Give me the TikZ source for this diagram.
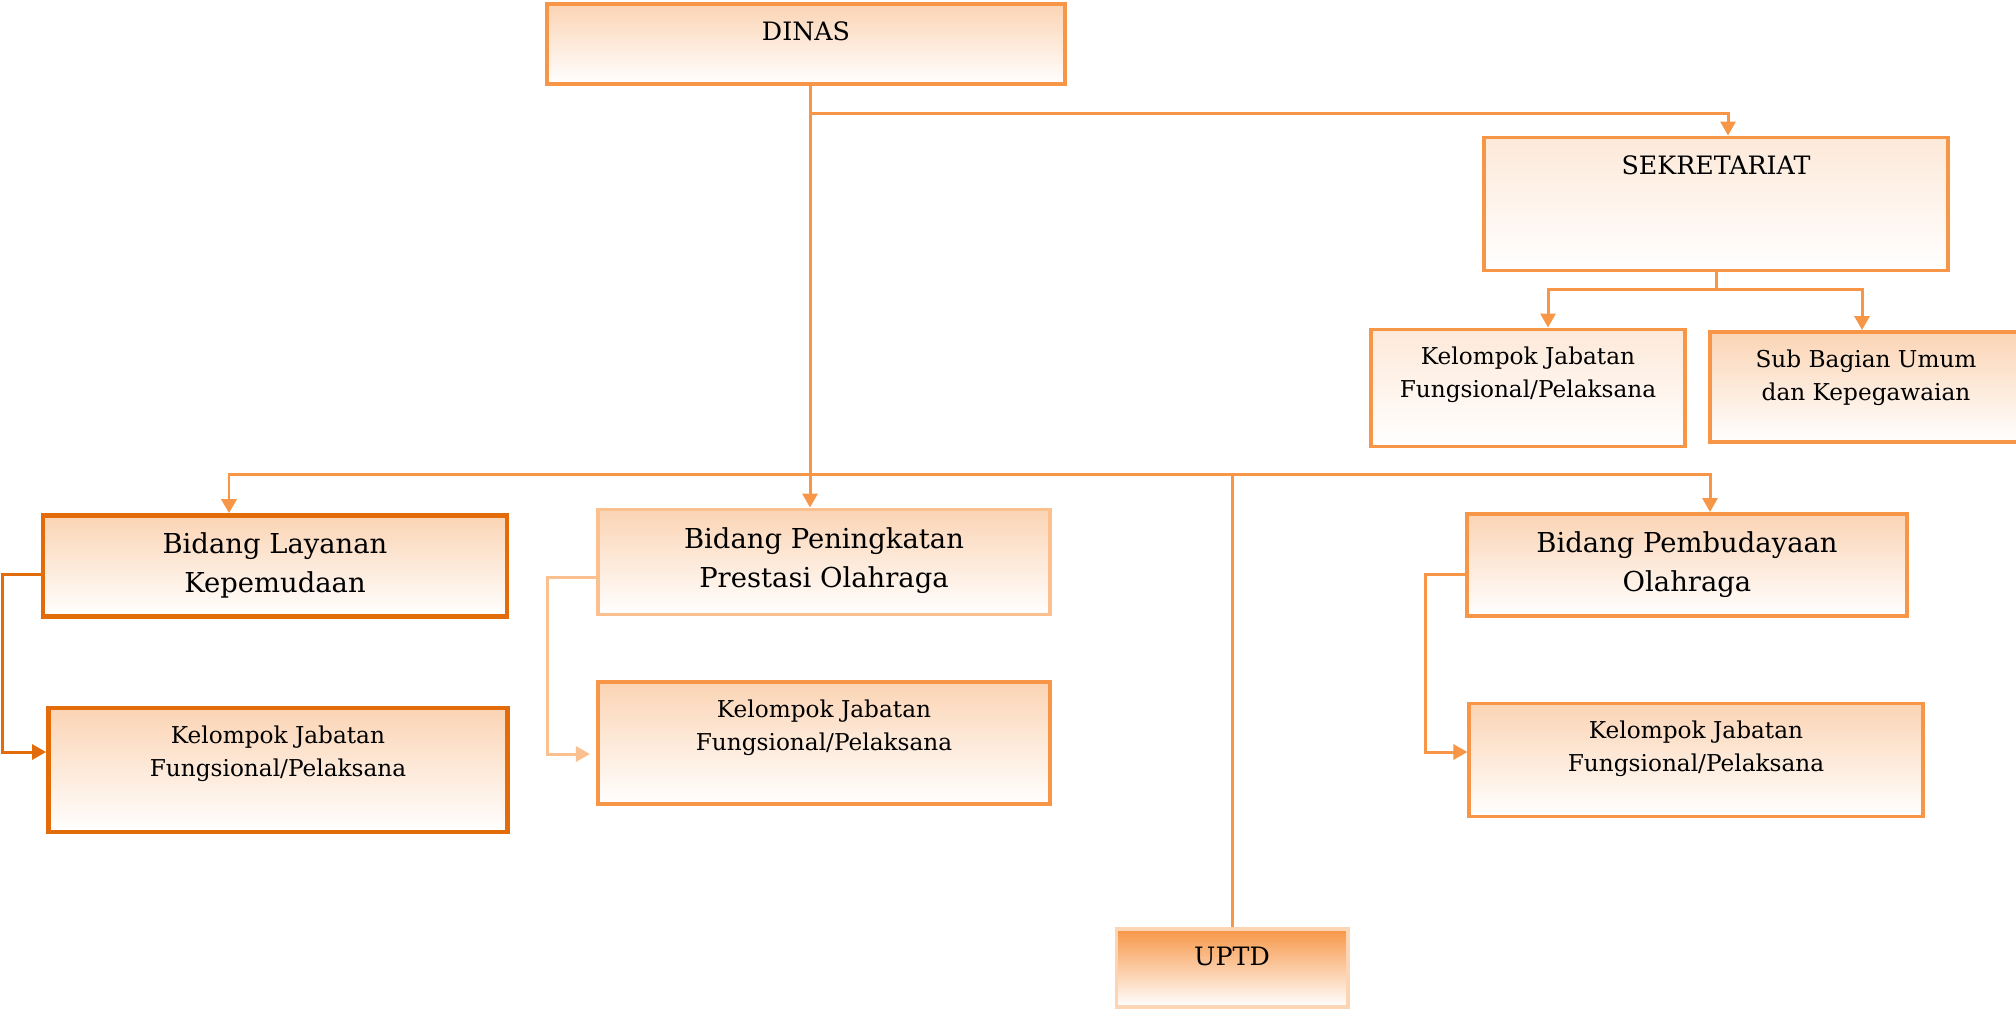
\documentclass[tikz,border=0pt]{standalone}
\usepackage{fontspec}
\setmainfont{DejaVu Serif}
\usetikzlibrary{arrows.meta}
\definecolor{accent}{HTML}{F79646}
\definecolor{accentdark}{HTML}{E36C0A}
\definecolor{accentlight}{HTML}{FAC090}
\definecolor{tintA}{HTML}{FBD4B4}
\definecolor{tintB}{HTML}{FDE9D9}
\definecolor{tintC}{HTML}{FCD5B4}
\tikzset{unit/.style={draw=accent,line width=1.1pt,top color=tintA,bottom color=white},
         intext/.style={anchor=north,yshift=-0.19cm,align=center,inner sep=0pt},
         head/.style={font=\fontsize{7.2}{10}\selectfont},
         big/.style={font=\fontsize{7.8}{11.1}\selectfont},
         small/.style={font=\fontsize{6.6}{9.4}\selectfont},
         link/.style={draw=accent,line width=0.85pt}}

\begin{document}
\begin{tikzpicture}[x=0.01cm,y=-0.01cm,>={Triangle[length=0.14cm,width=0.15cm]}]
    \useasboundingbox (0,0) rectangle (2016,1008);

    \node[unit,minimum width=5.17cm,minimum height=0.8cm,label={[intext,head]north:DINAS}] (dinas) at (806,44) {};
    \node[unit,top color=tintB,minimum width=4.64cm,minimum height=1.33cm,label={[intext,head]north:SEKRETARIAT}] (sek) at (1716,204) {};
    \node[unit,top color=tintB,minimum width=3.14cm,minimum height=1.17cm,label={[intext,small]north:Kelompok Jabatan\\Fungsional/Pelaksana}] (kelsek) at (1528,388) {};
    \node[unit,minimum width=3.12cm,minimum height=1.1cm,label={[intext,small]north:Sub Bagian Umum\\dan Kepegawaian}] (sub) at (1866,387) {};
    \node[unit,draw=accentdark,line width=1.3pt,minimum width=4.64cm,minimum height=1.01cm,label={[intext,big]north:Bidang Layanan\\Kepemudaan}] (lay) at (275,566) {};
    \node[unit,draw=accentdark,line width=1.3pt,minimum width=4.59cm,minimum height=1.24cm,label={[intext,small]north:Kelompok Jabatan\\Fungsional/Pelaksana}] (kellay) at (278,770) {};
    \node[unit,draw=accentlight,minimum width=4.52cm,minimum height=1.05cm,label={[intext,big]north:Bidang Peningkatan\\Prestasi Olahraga}] (pen) at (824,562) {};
    \node[unit,minimum width=4.52cm,minimum height=1.22cm,label={[intext,small]north:Kelompok Jabatan\\Fungsional/Pelaksana}] (kelpen) at (824,743) {};
    \node[unit,minimum width=4.4cm,minimum height=1.02cm,label={[intext,big]north:Bidang Pembudayaan\\Olahraga}] (pem) at (1687,565) {};
    \node[unit,minimum width=4.53cm,minimum height=1.13cm,label={[intext,small]north:Kelompok Jabatan\\Fungsional/Pelaksana}] (kelpem) at (1696,760) {};
    \node[unit,draw=tintC,top color=accent,minimum width=2.31cm,minimum height=0.78cm,label={[intext,head]north:UPTD}] (uptd) at (1232,968) {};

    \coordinate (top) at (810,113);
    \coordinate (mid) at (810,474);
    \coordinate (busL) at (229,474);
    \coordinate (busR) at (1710,474);
    \coordinate (sekL) at (1548,289);
    \coordinate (sekR) at (1862,289);

    \draw [link,->] (dinas.south -| mid) -- (mid |- pen.north);
    \draw [link,->] (top) -| ([xshift=0.12cm]sek.north);
    \draw [link,<->] (busL |- lay.north) -- (busL) -- (busR) -- (busR |- pem.north);
    \draw [link] (uptd.north |- busL) -- (uptd.north);
    \draw [link] (sek.south) -- (sek.south |- sekL);
    \draw [link,<->] (sekL |- kelsek.north) -- (sekL) -- (sekR) -- (sekR |- sub.north);
    \draw [link,->,draw=accentdark] ([yshift=-0.08cm]lay.west) -- ++(-0.38cm,0) |- ([yshift=0.18cm]kellay.west);
    \draw [link,->,draw=accentlight] ([yshift=-0.15cm]pen.west) -- ++(-0.48cm,0) |- ([xshift=-0.06cm,yshift=-0.11cm]kelpen.west);
    \draw [link,->] ([yshift=-0.09cm]pem.west) -- ++(-0.39cm,0) |- ([yshift=0.08cm]kelpem.west);
\end{tikzpicture}
\end{document}
